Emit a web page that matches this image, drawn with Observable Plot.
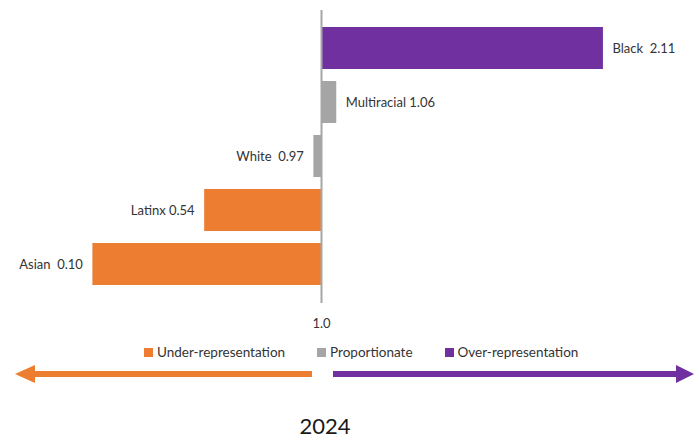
<!DOCTYPE html>
<html>
<head>
<meta charset="utf-8">
<script src="https://cdn.jsdelivr.net/npm/d3@7"></script>
<script src="https://cdn.jsdelivr.net/npm/@observablehq/plot@0.6"></script>
<style>
  html, body { margin: 0; padding: 0; background: #fff; }
  #wrap { position: relative; width: 699px; height: 447px; font-family: Lato, "Noto Sans", sans-serif; color: #333; overflow: hidden; }
  #chart { position: absolute; left: 0; top: 0; }
  #legend { position: absolute; left: 144px; top: 344px; display: flex; gap: 32px; font-size: 13.5px; line-height: 17px; white-space: nowrap; }
  #legend .item { display: flex; align-items: center; }
  #legend .sw { width: 9px; height: 9px; margin-right: 4px; }
  #arrows { position: absolute; left: 0; top: 360px; }
  #year { position: absolute; left: 0; width: 650px; text-align: center; top: 412px; font-size: 22px; color: #1a1a1a; }
</style>
</head>
<body>
<div id="wrap">
  <div id="chart"></div>
  <div id="legend"></div>
  <svg id="arrows" width="699" height="30"></svg>
  <div id="year"></div>
</div>
<script>
const races = ["Black", "Multiracial", "White", "Latinx", "Asian"];
const values = [2.11, 1.06, 0.97, 0.54, 0.10];
const groups = ["Over-representation", "Proportionate", "Proportionate", "Under-representation", "Under-representation"];
const labels = ["Black  2.11", "Multiracial 1.06", "White  0.97", "Latinx 0.54", "Asian  0.10"];
const legendNames = ["Under-representation", "Proportionate", "Over-representation"];
const legendColors = ["#ED7D31", "#A5A5A5", "#7030A0"];
const baseline = 1.0;
const yearLabel = "2024";

const data = races.map((r, i) => ({race: r, value: values[i], group: groups[i], label: labels[i]}));

const plot = Plot.plot({
  width: 699,
  height: 330,
  marginTop: 10,
  marginBottom: 27,
  marginLeft: 0,
  marginRight: 0,
  style: {fontFamily: "Lato, 'Noto Sans', sans-serif", fontSize: "13px", color: "#333", background: "transparent"},
  x: {domain: [0, 2.5], range: [67, 702]},
  y: {domain: races, range: [19.75, 292.25], paddingInner: 0.23, paddingOuter: 0.115, axis: null},
  color: {domain: legendNames, range: legendColors},
  marks: [
    Plot.barX(data, {x1: baseline, x2: "value", y: "race", fill: "group"}),
    Plot.ruleX([baseline], {stroke: "#A6A6A6", strokeWidth: 2}),
    Plot.text(data.filter(d => d.value >= baseline), {x: "value", y: "race", text: "label", textAnchor: "start", dx: 9, fill: "#333"}),
    Plot.text(data.filter(d => d.value < baseline), {x: "value", y: "race", text: "label", textAnchor: "end", dx: -10, fill: "#333"}),
    Plot.axisX({ticks: [baseline], tickFormat: d => d.toFixed(1), tickSize: 0, tickPadding: 15, label: null, fill: "#333"})
  ]
});
plot.querySelectorAll("text").forEach(t => t.setAttribute("xml:space", "preserve"));
plot.style.whiteSpace = "pre";
document.getElementById("chart").appendChild(plot);

const legend = document.getElementById("legend");
legendNames.forEach((n, i) => {
  const it = document.createElement("div");
  it.className = "item";
  it.innerHTML = `<span class="sw" style="background:${legendColors[i]}"></span><span>${n}</span>`;
  legend.appendChild(it);
});

// decorative direction arrows
const svg = d3.select("#arrows");
const cy = 14;
svg.append("rect").attr("x", 33).attr("y", cy - 3).attr("width", 279).attr("height", 6).attr("fill", legendColors[0]);
svg.append("polygon").attr("points", `15,${cy} 35,${cy - 9} 35,${cy + 9}`).attr("fill", legendColors[0]);
svg.append("rect").attr("x", 333).attr("y", cy - 3).attr("width", 345).attr("height", 6).attr("fill", legendColors[2]);
svg.append("polygon").attr("points", `694,${cy} 676,${cy - 9} 676,${cy + 9}`).attr("fill", legendColors[2]);

document.getElementById("year").textContent = yearLabel;
</script>
</body>
</html>
